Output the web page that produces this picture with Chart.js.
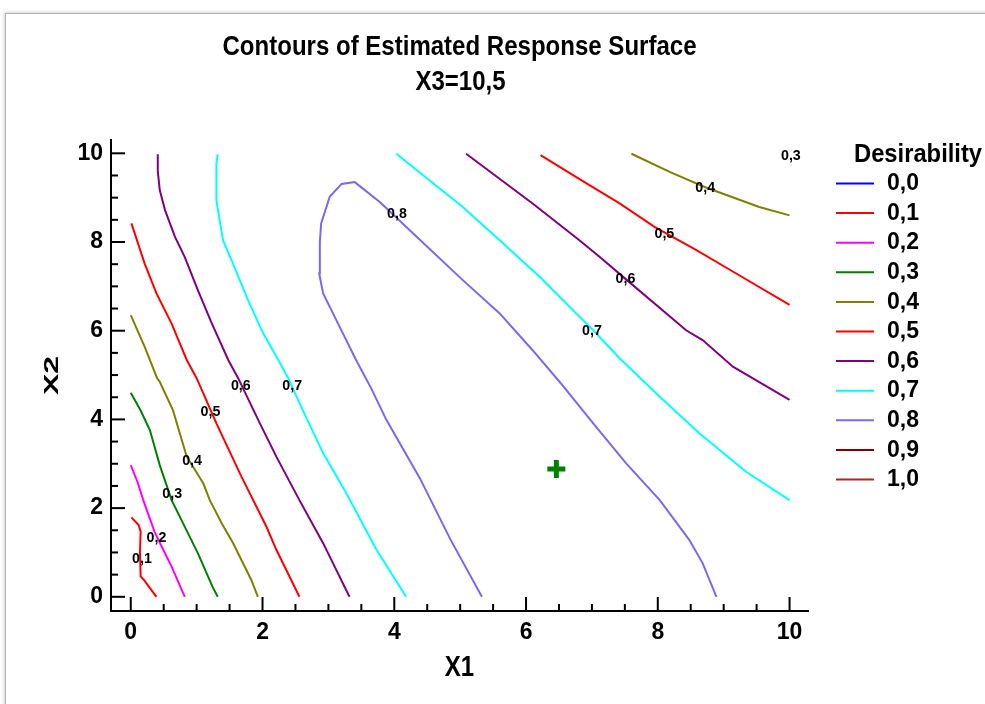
<!DOCTYPE html>
<html>
<head>
<meta charset="utf-8">
<script src="https://cdn.jsdelivr.net/npm/chart.js@4.4.1/dist/chart.umd.min.js"></script>
<style>
html, body { margin: 0; padding: 0; background: #fff; }
#wrap { position: relative; width: 985px; height: 704px; overflow: hidden; }
#frame { position: absolute; left: 5px; top: 13px; width: 1000px; height: 720px;
  border-left: 1px solid #b4b4b4; border-top: 1px solid #b4b4b4;
  box-shadow: -1px -1px 3px rgba(0,0,0,0.18); background: #fff; }
canvas { position: absolute; left: 0; top: 0; }
</style>
</head>
<body>
<div id="wrap"><div id="frame"></div><canvas id="chart" width="985" height="704"></canvas></div>
<script>
// legend levels
const levelLabels = ['0,0', '0,1', '0,2', '0,3', '0,4', '0,5', '0,6', '0,7', '0,8', '0,9', '1,0'];
const levelColors = ['#0000ff', '#ff0000', '#ff00ff', '#008000', '#808000', '#ff0000',
                     '#800080', '#00ffff', '#7b68ee', '#800000', '#a52a2a'];

// contour lines, [X1, X2]
const c01 = [[0.01,1.79],[0.12,1.62],[0.15,1.47],[0.14,1.0],[0.15,0.46],[0.2,0.38],[0.3,0.18],[0.39,0]];
const c02 = [[0,2.97],[0.1,2.6],[0.19,2.18],[0.36,1.47],[0.48,1.1],[0.62,0.68],[0.82,0]];
const c03 = [[0,4.6],[0.15,4.2],[0.29,3.76],[0.44,2.97],[0.62,2.18],[0.77,1.73],[1.02,0.98],[1.24,0.23],[1.32,0]];
const c04 = [[0,6.35],[0.21,5.64],[0.4,4.93],[0.44,4.85],[0.64,4.21],[0.85,3.16],[1.1,2.56],[1.2,2.18],
             [1.38,1.66],[1.55,1.22],[1.83,0.38],[1.93,0]];
const c04b = [[7.6,9.99],[8.18,9.58],[8.71,9.24],[9.54,8.79],[10,8.6]];
const c05a = [[0.01,8.42],[0.21,7.52],[0.39,6.84],[0.62,6.16],[0.85,5.34],[1.0,4.93],[1.3,3.91],[1.68,2.71],
              [2.06,1.58],[2.21,1.06],[2.56,0]];
const c05b = [[6.22,9.96],[6.8,9.43],[7.42,8.87],[7.95,8.34],[8.58,7.82],[9.19,7.29],[10,6.58]];
const c06a = [[0.41,9.98],[0.41,9.6],[0.44,9.17],[0.52,8.72],[0.67,8.12],[0.82,7.66],[1.02,6.91],[1.22,6.2],
              [1.48,5.34],[1.63,4.93],[1.96,3.91],[2.21,3.16],[2.56,2.18],[2.92,1.21],[3.32,0]];
const c06b = [[5.09,9.99],[6.1,8.87],[6.81,8.04],[7.12,7.66],[7.5,7.18],[8.43,6.01],[8.68,5.79],[9.14,5.19],[10,4.44]];
const c07a = [[1.32,9.98],[1.3,9.77],[1.3,8.94],[1.4,8.04],[1.55,7.52],[1.78,6.69],[2.01,5.94],[2.24,5.34],
              [2.39,4.93],[2.61,4.21],[2.92,3.24],[3.27,2.34],[3.73,1.06],[4.18,0]];
const c07b = [[4.03,9.99],[5.04,8.79],[5.6,8.04],[6.21,7.21],[6.76,6.39],[7.02,6.01],[7.42,5.38],[8.03,4.51],
              [8.63,3.69],[9.34,2.82],[10,2.18]];
const c08 = [[5.33,0],[4.85,1.3],[4.39,2.67],[3.88,3.99],[3.65,4.7],[3.42,5.34],[3.22,5.94],[2.92,6.84],[2.86,7.29],
             [2.87,8.0],[2.89,8.42],[3.02,9.02],[3.2,9.31],[3.4,9.35],[3.78,8.9],[4.34,8.12],[5.04,7.14],[5.6,6.39],
             [6.1,5.56],[6.53,4.81],[7.02,3.91],[7.52,3.01],[8.03,2.18],[8.48,1.28],[8.68,0.76],[8.89,0]];

// which level each line belongs to
const contourLines = [c01, c02, c03, c04, c04b, c05a, c05b, c06a, c06b, c07a, c07b, c08];
const contourLevels = [1, 2, 3, 4, 4, 5, 5, 6, 6, 7, 7, 8];

// contour value labels
const labelText = ['0,1', '0,2', '0,3', '0,4', '0,5', '0,6', '0,7', '0,8', '0,7', '0,6', '0,5', '0,4', '0,3'];
const labelX = [0.17, 0.39, 0.63, 0.93, 1.21, 1.67, 2.45, 4.04, 7.0, 7.51, 8.1, 8.72, 10.02];
const labelY = [0.86, 1.33, 2.32, 3.06, 4.16, 4.75, 4.75, 8.63, 5.99, 7.16, 8.18, 9.22, 9.94];

// optimum marker
const optX = [6.46];
const optY = [2.88];

const xTicks = [0, 2, 4, 6, 8, 10];
const yTicks = [0, 2, 4, 6, 8, 10];

const FONT = '"Liberation Sans", Arial, sans-serif';

function drawText(ctx, str, x, y, size, sx, align, rot) {
    ctx.save();
    ctx.translate(x, y);
    if (rot) ctx.rotate(rot);
    ctx.scale(sx, 1);
    ctx.font = 'bold ' + size + 'px ' + FONT;
    ctx.textAlign = align || 'center';
    ctx.textBaseline = 'middle';
    ctx.fillStyle = '#000';
    ctx.fillText(str, 0, 0);
    ctx.restore();
}

// ticks inside the axes, titles, labels and legend
const decorPlugin = {
    id: 'decor',
    afterDraw(chart) {
        const ctx = chart.ctx;
        const xs = chart.scales.x, ys = chart.scales.y;
        const area = chart.chartArea;

        ctx.save();
        ctx.strokeStyle = '#000';
        ctx.lineWidth = 2;
        for (let v = 0; v <= 10; v += 0.5) {
            const len = (v % 2 === 0) ? 14 : 7;
            const px = xs.getPixelForValue(v);
            ctx.beginPath();
            ctx.moveTo(px, area.bottom);
            ctx.lineTo(px, area.bottom - len);
            ctx.stroke();
            const py = ys.getPixelForValue(v);
            ctx.beginPath();
            ctx.moveTo(area.left, py);
            ctx.lineTo(area.left + len, py);
            ctx.stroke();
        }
        ctx.restore();

        // contour labels
        labelText.forEach((t, i) => {
            drawText(ctx, t, xs.getPixelForValue(labelX[i]), ys.getPixelForValue(labelY[i]), 15, 0.95, 'center');
        });

        // titles
        const cx = (area.left + area.right) / 2;
        drawText(ctx, 'Contours of Estimated Response Surface', cx, 48, 27, 0.89, 'center');
        drawText(ctx, 'X3=10,5', cx + 1, 83, 27, 0.89, 'center');

        // axis titles
        drawText(ctx, 'X1', cx, 668, 30, 0.8, 'center');
        drawText(ctx, 'X2', 52, (area.top + area.bottom) / 2, 20, 1.6, 'center', -Math.PI / 2);

        // legend
        drawText(ctx, 'Desirability', 854, 155, 25, 0.95, 'left');
        ctx.save();
        ctx.lineWidth = 2;
        levelLabels.forEach((t, i) => {
            const y = 183.5 + i * 29.6;
            ctx.strokeStyle = levelColors[i];
            ctx.beginPath();
            ctx.moveTo(836, y);
            ctx.lineTo(874, y);
            ctx.stroke();
            drawText(ctx, t, 887, y, 24, 0.96, 'left');
        });
        ctx.restore();
    }
};

const datasets = contourLines.map((pts, i) => ({
    data: pts.map(p => ({ x: p[0], y: p[1] })),
    showLine: true,
    borderColor: levelColors[contourLevels[i]],
    borderWidth: 2,
    pointRadius: 0,
    fill: false,
    tension: 0
}));
datasets.push({
    data: optX.map((x, i) => ({ x: x, y: optY[i] })),
    showLine: false,
    pointStyle: 'cross',
    pointRadius: 9,
    borderWidth: 5,
    borderColor: '#008000',
    backgroundColor: '#008000'
});

const tickFont = { family: FONT, size: 23, weight: 'bold' };

new Chart(document.getElementById('chart').getContext('2d'), {
    type: 'scatter',
    data: { datasets: datasets },
    options: {
        responsive: false,
        devicePixelRatio: 1,
        animation: false,
        events: [],
        layout: { padding: { top: 140, right: 177, bottom: 0, left: 0 } },
        plugins: { legend: { display: false }, tooltip: { enabled: false }, title: { display: false } },
        scales: {
            x: {
                type: 'linear', min: -0.3, max: 10.28,
                afterBuildTicks: s => { s.ticks = xTicks.map(v => ({ value: v })); },
                ticks: { color: '#000', font: tickFont, padding: 8, maxRotation: 0, autoSkip: false },
                grid: { drawOnChartArea: false, drawTicks: false },
                border: { display: true, color: '#000', width: 2 },
                afterFit: s => { s.height = 93; }
            },
            y: {
                type: 'linear', min: -0.32, max: 10.3,
                afterBuildTicks: s => { s.ticks = yTicks.map(v => ({ value: v })); },
                ticks: { color: '#000', font: tickFont, padding: 8, autoSkip: false },
                grid: { drawOnChartArea: false, drawTicks: false },
                border: { display: true, color: '#000', width: 2 },
                afterFit: s => { s.width = 111; }
            }
        }
    },
    plugins: [decorPlugin]
});
</script>
</body>
</html>
